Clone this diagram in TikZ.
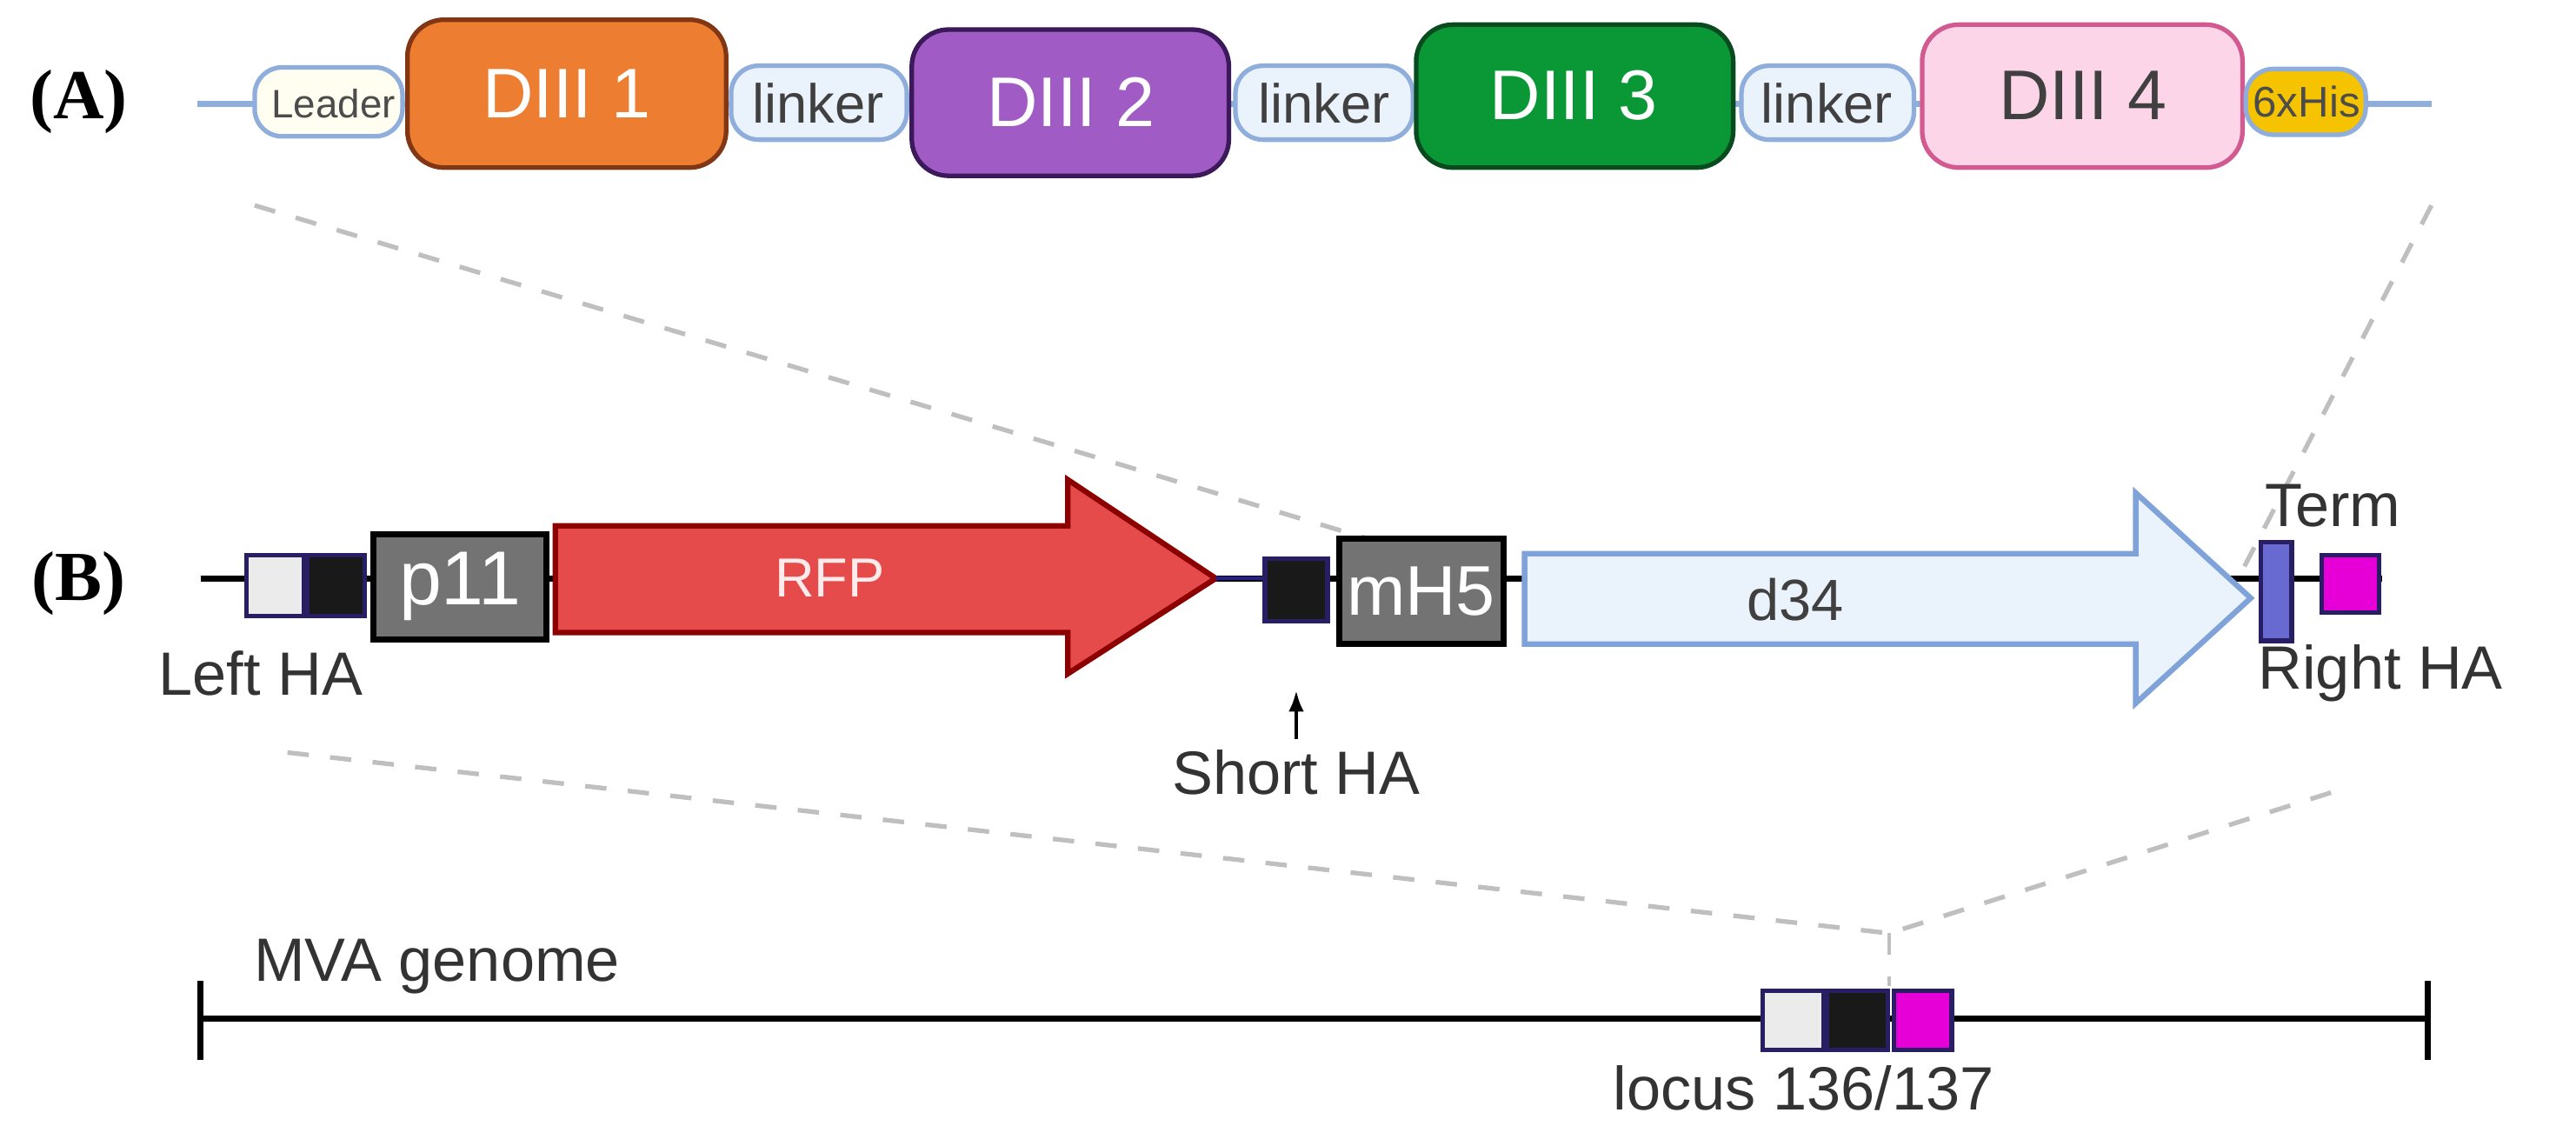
\documentclass[tikz,border=0pt]{standalone}
\usepackage{fontspec}
\setmainfont{Liberation Sans}
\newfontfamily\lab{Liberation Serif}
\usetikzlibrary{arrows.meta}
\definecolor{lnk}{HTML}{EAF2FB}\definecolor{lnkb}{HTML}{8FAEDC}
\definecolor{navy}{RGB}{40,30,100}\definecolor{thinb}{RGB}{40,30,140}
\begin{document}
\begin{tikzpicture}[x=0.018897cm,y=-0.018897cm,
 dom/.style={draw,line width=1.5pt,rounded corners=12pt},
 pill/.style={draw=lnkb,fill=lnk,line width=1.5pt,rounded corners=9pt},
 gbox/.style={draw=black,fill=black!55,line width=2pt,text=white},
 sq/.style={draw=navy,line width=1.5pt},
 zdash/.style={draw=black!25,line width=1.5pt,dash pattern=on 7pt off 7pt},
 dtxt/.style={font=\fontsize{23}{23}\selectfont},
 ltxt/.style={font=\fontsize{18}{18}\selectfont,text=black!75},
 lbl/.style={font=\fontsize{20}{20}\selectfont,text=black!80}]
\useasboundingbox (0,0) rectangle (1568,697);
% (A)
\node[font=\lab\bfseries\fontsize{23}{23}\selectfont] (LA) at (48,62) {(A)};
\coordinate (a0) at (120,63); \coordinate (a1) at (1480,63);
\draw[lnkb,line width=2pt] (a0)--(a1);
\draw[pill,fill=yellow!6] (155,41) rectangle (245,83); \node[font=\fontsize{13}{13}\selectfont,text=black!70] (lead) at (203,63) {Leader};
\draw[dom,fill={rgb,255:red,237;green,125;blue,49},draw={rgb,255:red,130;green,55;blue,20}] (248,12) rectangle (442,102); \node[dtxt,text=white] (d1) at (345,57) {DIII 1};
\draw[pill] (445,40) rectangle (552,85); \node[ltxt] (l1) at (498,63) {linker};
\draw[dom,fill={rgb,255:red,160;green,92;blue,196},draw={rgb,255:red,60;green,25;blue,90}] (555,18) rectangle (748,107); \node[dtxt,text=white] (d2) at (652,62) {DIII 2};
\draw[pill] (752,40) rectangle (860,85); \node[ltxt] (l2) at (806,63) {linker};
\draw[dom,fill={rgb,255:red,10;green,152;blue,55},draw={rgb,255:red,8;green,75;blue,30}] (862,15) rectangle (1055,102); \node[dtxt,text=white] (d3) at (958,58) {DIII 3};
\draw[pill] (1060,40) rectangle (1165,85); \node[ltxt] (l3) at (1112,63) {linker};
\draw[dom,fill={rgb,255:red,252;green,214;blue,232},draw={rgb,255:red,210;green,90;blue,145}] (1170,15) rectangle (1365,102); \node[dtxt,text=black!75] (d4) at (1268,58) {DIII 4};
\draw[pill,fill={rgb,255:red,245;green,195;blue,0}] (1367,42) rectangle (1440,82); \node[font=\fontsize{14}{14}\selectfont,text=black!70] (his) at (1404,62) {6xHis};
% dashed zoom lines
\coordinate (z1) at (155,125); \coordinate (z2) at (930,357);
\coordinate (z3) at (1480,125); \coordinate (z4) at (1366,345);
\coordinate (z5) at (175,458); \coordinate (z6) at (1150,568);
\coordinate (z7) at (1420,482); \coordinate (z8) at (1150,600);
\draw[zdash] (z1)--(z2); \draw[zdash] (z3)--(z4);
\draw[zdash] (z5)--(z6)--(z7); \draw[zdash,line width=1pt] (z6)--(z8);
% (B)
\node[font=\lab\bfseries\fontsize{23}{23}\selectfont] (LB) at (48,355) {(B)};
\coordinate (b0) at (122,352); \coordinate (b1) at (1450,352);
\draw[black,line width=2pt] (b0)--(b1);
\draw[sq,fill=black!8] (150,338) rectangle (185,375);
\draw[sq,fill=black!90] (187,338) rectangle (222,375);
\node[gbox,font=\fontsize{25}{25}\selectfont,minimum width=105*0.018897cm,minimum height=64*0.018897cm,inner sep=0pt] (p11) at (280,357) {p11};
\draw[fill={rgb,255:red,230;green,75;blue,75},draw={rgb,255:red,140;green,0;blue,0},line width=1.8pt]
 (338,320)--(650,320)--(650,292)--(740,352)--(650,410)--(650,385)--(338,385)--cycle;
\node[text=white!92!red,font=\fontsize{18}{18}\selectfont] (rfp) at (505,352) {RFP};
\draw[thinb,line width=1pt] (740,352)--(770,352);
\draw[sq,fill=black!90] (770,340) rectangle (808,378);
\node[gbox,font=\fontsize{23}{23}\selectfont,minimum width=100*0.018897cm,minimum height=64*0.018897cm,inner sep=0pt] (mh5) at (865,360) {mH5};
\draw[fill=lnk,draw={rgb,255:red,127;green,163;blue,216},line width=1.8pt]
 (928,337)--(1300,337)--(1300,300)--(1370,364)--(1300,428)--(1300,392)--(928,392)--cycle;
\node[text=black!75,font=\fontsize{19}{19}\selectfont] (d34) at (1093,365) {d34};
\draw[fill={rgb,255:red,105;green,105;blue,210},draw=navy,line width=1.5pt] (1376,330) rectangle (1395,390);
\draw[sq,fill={rgb,255:red,230;green,0;blue,215}] (1413,338) rectangle (1448,373);
\node[lbl,anchor=west] (term) at (1372,308) {Term};
\node[lbl,anchor=west] (rha) at (1368,410) {Right HA};
\node[lbl,anchor=west] (lha) at (90,410) {Left HA};
\node[lbl] (sha) at (789,470) {Short HA};
\coordinate (sa) at (789,420);
\draw[-{Latex[length=7pt,width=5pt]},line width=1.3pt] (sha.north)--(sa);
% genome
\coordinate (g0) at (122,620); \coordinate (g1) at (1478,620);
\draw[line width=2pt] (g0)--(g1);
\draw[line width=2pt] (122,597)--(122,645); \draw[line width=2pt] (1478,597)--(1478,645);
\draw[sq,fill=black!8] (1073,603) rectangle (1110,639);
\draw[sq,fill=black!90] (1112,603) rectangle (1149,639);
\draw[sq,fill={rgb,255:red,230;green,0;blue,215}] (1153,603) rectangle (1188,639);
\node[lbl,anchor=west] (mva) at (148,588) {MVA genome};
\node[lbl] (loc) at (1098,662) {locus 136/137};
\end{tikzpicture}
\end{document}
